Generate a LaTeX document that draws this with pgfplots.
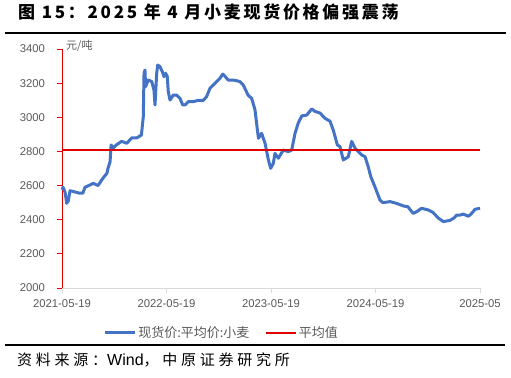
\documentclass[border=0pt]{standalone}
\usepackage{fontspec}
\setmainfont{Liberation Sans}
\newfontfamily\cjk{Noto Sans CJK SC}
\newfontfamily\cjktitle{Noto Sans CJK SC}[LetterSpace=16]
\newfontfamily\cjksrc{Noto Sans CJK SC}[LetterSpace=25]
\usepackage{pgfplots}
\pgfplotsset{compat=1.18}
\definecolor{bl}{HTML}{4472C4}
\definecolor{rd}{HTML}{E00000}
\definecolor{tk}{HTML}{595959}
\definecolor{axc}{HTML}{D9D9D9}
\begin{document}
\begin{tikzpicture}
\path[use as bounding box] (0,0) rectangle (511bp,378bp);
\node[anchor=base west, inner sep=0] at (18bp,359bp) {\fontsize{17bp}{20bp}\cjktitle\bfseries 图 15：2025 年 4 月小麦现货价格偏强震荡};
\draw[line width=2.5bp] (5bp,345bp) -- (506bp,345bp);
\draw[line width=2.2bp] (5bp,33bp) -- (505bp,33bp);
\node[anchor=base west, inner sep=0] at (17bp,13bp) {\fontsize{15bp}{18bp}\cjksrc 资料来源：{\rmfamily\fontsize{16bp}{18bp}\selectfont Wind}，中原证券研究所};
\node[anchor=west, inner sep=0, text=tk] at (66bp,332bp) {\fontsize{11bp}{13bp}\cjk 元/吨};
\begin{axis}[
  at={(62bp,90bp)}, anchor=south west, scale only axis,
  width=418bp, height=239bp,
  xmin=0, xmax=4, ymin=2000, ymax=3400,
  axis x line=bottom, axis y line=left,
  axis line style={-},
  x axis line style={draw=axc, line width=0.8bp},
  y axis line style={draw=rd, line width=0.9bp},
  xtick={0,1,2,3,4},
  xticklabels={2021-05-19,2022-05-19,2023-05-19,2024-05-19,2025-05},
  ytick={2000,2200,...,3400},
  tick align=outside, major tick length=4.5bp,
  x tick style={draw=axc, line width=0.8bp},
  y tick style={draw=rd, line width=0.9bp},
  /pgf/number format/assume math mode=true,
  /pgf/number format/1000 sep={},
  ticklabel style={font=\fontsize{11.3bp}{13bp}\selectfont, text=tk},
  xticklabel style={yshift=-4bp},
  yticklabel style={xshift=-9bp},
  legend columns=2,
  legend style={draw=none, at={(0.3816,-0.188)}, anchor=center,
    font=\fontsize{13bp}{15bp}\cjk, text=tk, fill=none,
    /tikz/every even column/.append style={column sep=14bp}},
  legend image code/.code={\draw[#1] (0bp,0bp) -- (30bp,0bp);},
  clip=false,
]
\addplot[bl, line width=3bp, line join=round] coordinates {
(0.00,2575) (0.01,2590) (0.03,2560) (0.045,2496) (0.06,2510) (0.077,2570)
(0.11,2565) (0.17,2555) (0.20,2556) (0.22,2590) (0.30,2613) (0.345,2600)
(0.39,2642) (0.43,2672) (0.44,2700) (0.46,2740) (0.465,2789) (0.47,2838)
(0.49,2820) (0.52,2838) (0.57,2859) (0.62,2848) (0.667,2879) (0.715,2879)
(0.76,2896) (0.778,3004) (0.785,3258) (0.794,3277) (0.80,3179) (0.825,3218)
(0.858,3210) (0.88,3160) (0.89,3072) (0.906,3258) (0.916,3306) (0.938,3296)
(0.96,3267) (0.976,3238) (0.992,3258) (1.007,3240) (1.017,3150) (1.034,3101)
(1.065,3130) (1.097,3130) (1.129,3111) (1.155,3072) (1.177,3072) (1.209,3092)
(1.256,3092) (1.304,3099) (1.352,3099) (1.384,3121) (1.416,3170) (1.464,3200)
(1.512,3229) (1.538,3253) (1.56,3240) (1.59,3218) (1.64,3218) (1.70,3210)
(1.735,3189) (1.78,3130) (1.815,3111) (1.847,3043) (1.87,2925) (1.88,2877)
(1.91,2906) (1.943,2848) (1.975,2750) (1.997,2701) (2.022,2730) (2.038,2789)
(2.07,2760) (2.118,2808) (2.166,2799) (2.198,2808) (2.23,2906) (2.26,2965)
(2.294,3008) (2.342,3013) (2.39,3049) (2.42,3035) (2.469,3025) (2.517,2994)
(2.565,2977) (2.596,2925) (2.635,2838) (2.66,2828) (2.692,2750) (2.74,2769)
(2.772,2859) (2.804,2819) (2.836,2799) (2.868,2779) (2.90,2769) (2.93,2711)
(2.955,2652) (3.0,2584) (3.043,2515) (3.07,2500) (3.14,2506) (3.20,2496)
(3.27,2480) (3.31,2476) (3.36,2437) (3.394,2447) (3.44,2467) (3.505,2457)
(3.55,2443) (3.60,2410) (3.649,2389) (3.713,2396) (3.751,2410) (3.777,2427)
(3.81,2427) (3.84,2433) (3.89,2420) (3.92,2437) (3.952,2461) (4.0,2467)
};
\addlegendentry{现货价:平均价:小麦}
\addplot[rd, line width=1.3bp] coordinates {(0,2808) (4,2808)};
\addlegendentry{平均值}
\end{axis}
\end{tikzpicture}
\end{document}
